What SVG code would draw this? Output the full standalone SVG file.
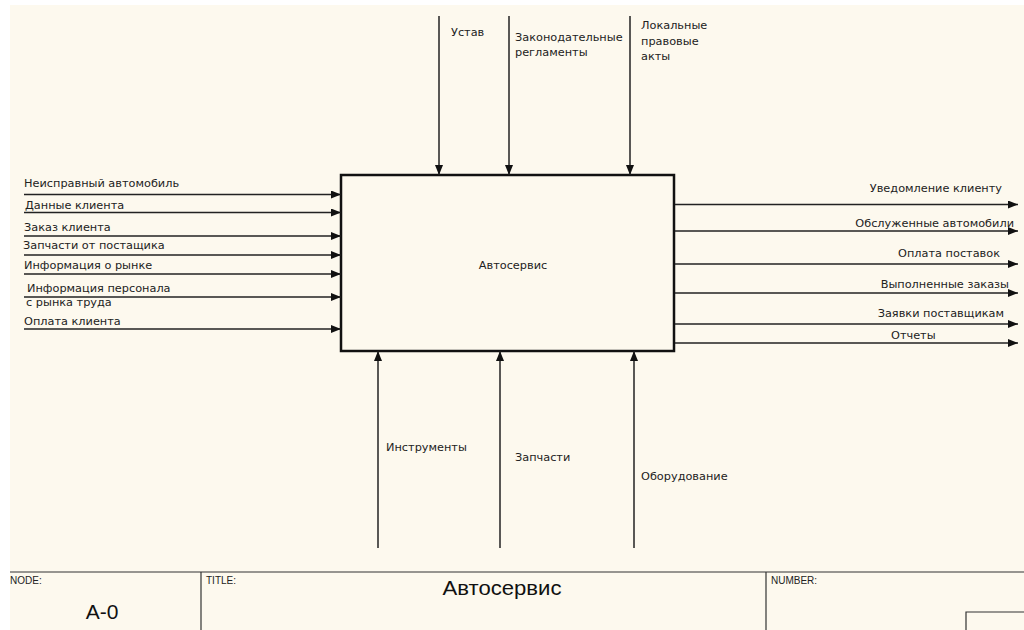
<svg xmlns="http://www.w3.org/2000/svg" width="1024" height="630" viewBox="0 0 1024 630">
<defs>
<marker id="ah" viewBox="0 0 10 8" refX="10" refY="4" markerWidth="10" markerHeight="8" markerUnits="userSpaceOnUse" orient="auto">
<path d="M0,0 L10,4 L0,8 Z" fill="#111"/>
</marker>
<style>
.t{font-family:"DejaVu Sans","Liberation Sans",sans-serif;font-size:11.3px;fill:#222}
.s{font-family:"Liberation Sans",Arial,sans-serif;font-size:10px;fill:#222}
.a{stroke:#222;stroke-width:1.5;fill:none;marker-end:url(#ah)}
.f{stroke:#333;stroke-width:1.2;fill:none}
</style>
</defs>
<rect x="0" y="0" width="1024" height="630" fill="#ffffff"/>
<rect x="10" y="5" width="1014" height="625" fill="#fdf9ee"/>

<g id="node-autoservice">
<rect x="341" y="175" width="333" height="176" fill="#fdf9ee" stroke="#111" stroke-width="2.5"/>
<text class="t" x="513" y="269" text-anchor="middle">Автосервис</text>
</g>

<g id="connectors">
<line class="a" x1="24" y1="194.5" x2="341" y2="194.5"/>
<line class="a" x1="24" y1="212.5" x2="341" y2="212.5"/>
<line class="a" x1="24" y1="236" x2="341" y2="236"/>
<line class="a" x1="24" y1="255" x2="341" y2="255"/>
<line class="a" x1="24" y1="274" x2="341" y2="274"/>
<line class="a" x1="24" y1="297" x2="341" y2="297"/>
<line class="a" x1="24" y1="329" x2="341" y2="329"/>

<line class="a" x1="675" y1="204.5" x2="1018" y2="204.5"/>
<line class="a" x1="675" y1="231" x2="1018" y2="231"/>
<line class="a" x1="675" y1="264" x2="1018" y2="264"/>
<line class="a" x1="675" y1="293" x2="1018" y2="293"/>
<line class="a" x1="675" y1="324" x2="1018" y2="324"/>
<line class="a" x1="675" y1="343" x2="1018" y2="343"/>

<line class="a" x1="439" y1="16" x2="439" y2="175"/>
<line class="a" x1="509" y1="16" x2="509" y2="175"/>
<line class="a" x1="630" y1="16" x2="630" y2="175"/>

<line class="a" x1="378" y1="548" x2="378" y2="351"/>
<line class="a" x1="500" y1="548" x2="500" y2="351"/>
<line class="a" x1="634" y1="548" x2="634" y2="351"/>
</g>

<g id="labels">
<text class="t" x="24" y="187">Неисправный автомобиль</text>
<text class="t" x="25" y="209">Данные клиента</text>
<text class="t" x="24" y="231">Заказ клиента</text>
<text class="t" x="23" y="249">Запчасти от постащика</text>
<text class="t" x="24" y="269">Информация о рынке</text>
<text class="t" x="27" y="292">Информация персонала</text>
<text class="t" x="26" y="306">с рынка труда</text>
<text class="t" x="24" y="325">Оплата клиента</text>

<text class="t" x="1002" y="192" text-anchor="end">Уведомление клиенту</text>
<text class="t" x="1014" y="227" text-anchor="end">Обслуженные автомобили</text>
<text class="t" x="1000" y="257" text-anchor="end">Оплата поставок</text>
<text class="t" x="1009" y="288" text-anchor="end">Выполненные заказы</text>
<text class="t" x="1004" y="317" text-anchor="end">Заявки поставщикам</text>
<text class="t" x="891" y="339">Отчеты</text>

<text class="t" x="451" y="36">Устав</text>
<text class="t" x="515" y="41">Законодательные</text>
<text class="t" x="515" y="56">регламенты</text>
<text class="t" x="641" y="29">Локальные</text>
<text class="t" x="641" y="45">правовые</text>
<text class="t" x="641" y="60">акты</text>

<text class="t" x="386" y="451">Инструменты</text>
<text class="t" x="515" y="461">Запчасти</text>
<text class="t" x="641" y="480">Оборудование</text>
</g>

<g id="frame">
<line class="f" x1="10" y1="572" x2="1024" y2="572" stroke-width="1.5"/>
<line class="f" x1="201" y1="572" x2="201" y2="630"/>
<line class="f" x1="766" y1="572" x2="766" y2="630"/>
<path class="f" d="M966,630 V612 H1024" stroke-width="1.5"/>
<text class="s" x="10" y="584">NODE:</text>
<text class="s" x="206" y="584">TITLE:</text>
<text class="s" x="771" y="584">NUMBER:</text>
<text x="102" y="619" text-anchor="middle" font-family="'Liberation Sans',Arial,sans-serif" font-size="21" fill="#111">A-0</text>
<text x="502" y="595" text-anchor="middle" font-family="'Liberation Sans',Arial,sans-serif" font-size="21" fill="#111" textLength="119" lengthAdjust="spacingAndGlyphs">Автосервис</text>
</g>
</svg>
